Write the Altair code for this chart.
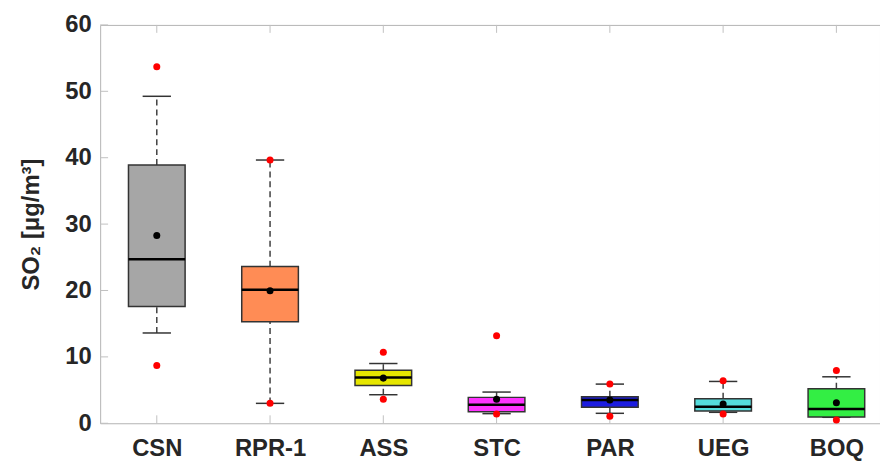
import altair as alt
import pandas as pd

stations = ["CSN", "RPR-1", "ASS", "STC", "PAR", "UEG", "BOQ"]
q1 = [17.6, 15.3, 5.7, 1.75, 2.4, 1.85, 0.95]
median = [24.7, 20.1, 6.9, 2.8, 3.5, 2.5, 2.15]
q3 = [38.9, 23.6, 8.0, 3.9, 4.0, 3.7, 5.2]
whisk_lo = [13.6, 3.0, 4.3, 1.45, 1.5, 1.65, 0.9]
whisk_hi = [49.25, 39.65, 9.0, 4.7, 5.9, 6.3, 7.0]
mean = [28.3, 19.95, 6.8, 3.6, 3.5, 2.9, 3.1]
vmin = [8.7, 3.0, 3.6, 1.4, 1.05, 1.4, 0.5]
vmax = [53.7, 39.65, 10.7, 13.2, 5.9, 6.4, 7.95]
colors = ["#a6a6a6", "#ff8c55", "#e6e600", "#ff33ff", "#1c1ce0", "#55dcdc", "#33ee44"]
y_ticks = [0, 10, 20, 30, 40, 50, 60]

BOX_HALF = 0.25
CAP_HALF = 0.125

df = pd.DataFrame({
    "station": stations, "q1": q1, "median": median, "q3": q3,
    "lo": whisk_lo, "hi": whisk_hi, "mean": mean, "vmin": vmin, "vmax": vmax,
})
df["pos"] = range(1, len(stations) + 1)
df["left"] = df["pos"] - BOX_HALF
df["right"] = df["pos"] + BOX_HALF
df["capl"] = df["pos"] - CAP_HALF
df["capr"] = df["pos"] + CAP_HALF

W, H = 787, 402
FONT = "Liberation Sans"
label_expr = "[" + ",".join(f"'{s}'" for s in stations) + "][datum.value - 1]"

xscale = alt.Scale(domain=[0.5, 7.385], nice=False, zero=False)
yscale = alt.Scale(domain=[0, 60], nice=False)

xaxis = alt.Axis(values=list(range(1, 8)), labelExpr=label_expr, title=None,
                 ticks=False, domain=False, grid=False, labelFont=FONT,
                 labelFontSize=24, labelFontWeight="bold", labelColor="#262626",
                 labelPadding=14)
yaxis = alt.Axis(values=y_ticks, title="SO₂ [μg/m³]", ticks=False, domain=False,
                 grid=False, labelFont=FONT, labelFontSize=24, labelFontWeight="bold",
                 labelColor="#262626", labelPadding=9, titleFont=FONT,
                 titleFontSize=24, titleFontWeight="bold", titleColor="#262626",
                 titlePadding=22)

base = alt.Chart(df)
X = lambda f: alt.X(f"{f}:Q", scale=xscale, axis=xaxis)
Y = lambda f: alt.Y(f"{f}:Q", scale=yscale, axis=yaxis)

whisk_up = base.mark_rule(color="#404040", strokeWidth=1.5, strokeDash=[6, 4]).encode(
    x=X("pos"), y=Y("q3"), y2="hi:Q")
whisk_dn = base.mark_rule(color="#404040", strokeWidth=1.5, strokeDash=[6, 4]).encode(
    x=X("pos"), y=Y("lo"), y2="q1:Q")
cap_up = base.mark_rule(color="#333333", strokeWidth=1.5).encode(
    x=X("capl"), x2="capr:Q", y=Y("hi"))
cap_dn = base.mark_rule(color="#333333", strokeWidth=1.5).encode(
    x=X("capl"), x2="capr:Q", y=Y("lo"))
box = base.mark_rect(stroke="#333333", strokeWidth=1.5).encode(
    x=X("left"), x2="right:Q", y=Y("q1"), y2="q3:Q",
    fill=alt.Fill("station:N", scale=alt.Scale(domain=stations, range=colors), legend=None))
med = base.mark_rule(color="#000000", strokeWidth=2.5).encode(
    x=X("left"), x2="right:Q", y=Y("median"))
pmax = base.mark_circle(color="#ff0000", size=50, opacity=1).encode(x=X("pos"), y=Y("vmax"))
pmin = base.mark_circle(color="#ff0000", size=50, opacity=1).encode(x=X("pos"), y=Y("vmin"))
pmean = base.mark_circle(color="#000000", size=50, opacity=1).encode(x=X("pos"), y=Y("mean"))

tick_df = pd.DataFrame({"v": y_ticks})
TICK = "#c0c0c0"
ytick = alt.Chart(tick_df).mark_rule(color=TICK, strokeWidth=1).encode(
    y=Y("v"), x=alt.value(0), x2=alt.value(8))
xtick_bot = base.mark_rule(color=TICK, strokeWidth=1).encode(
    x=X("pos"), y=alt.value(H), y2=alt.value(H - 8))
xtick_top = base.mark_rule(color=TICK, strokeWidth=1).encode(
    x=X("pos"), y=alt.value(0), y2=alt.value(8))

chart = alt.layer(
    ytick, xtick_bot, xtick_top,
    whisk_up, whisk_dn, cap_up, cap_dn, box, med, pmax, pmin, pmean,
).properties(
    width=W, height=H,
    autosize=alt.AutoSizeParams(type="none"),
    padding={"left": 93, "top": 15, "right": 0, "bottom": 36},
    background="white",
).configure_view(stroke="#b3b3b3", strokeWidth=1)

chart.save("out.html", embed_options={"renderer": "svg", "actions": False})
